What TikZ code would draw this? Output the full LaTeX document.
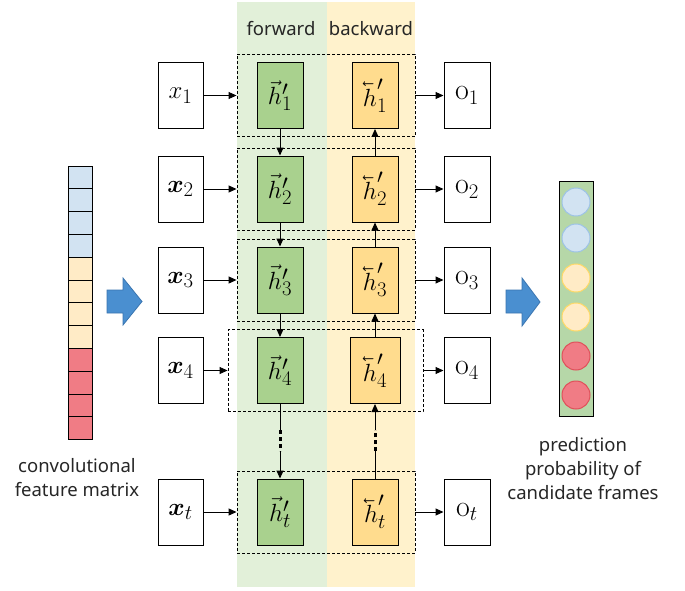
\documentclass[tikz,border=0pt]{standalone}
\usepackage{fontspec}
\usepackage{bm}
\usepackage{graphicx}
\newfontfamily\labelfont{Noto Sans}
\usetikzlibrary{arrows.meta}
\newcommand{\lvh}{\reflectbox{$\vec{\reflectbox{$h$}}$}}
\definecolor{bandgreen}{HTML}{E2F0D9}
\definecolor{bandorange}{HTML}{FFF2CC}
\definecolor{hgreen}{HTML}{A9D18E}
\definecolor{horange}{HTML}{FFDC8E}
\definecolor{cellblue}{HTML}{D2E3F2}
\definecolor{cellcream}{HTML}{FFEBC6}
\definecolor{cellred}{HTML}{F07C85}
\definecolor{arrowblue}{HTML}{4A8FD0}
\definecolor{arrowedge}{HTML}{3A75B0}
\definecolor{predgreen}{HTML}{B6D7A8}
\definecolor{cblueedge}{HTML}{9DC3E6}
\definecolor{ccreamedge}{HTML}{FFD966}
\definecolor{crededge}{HTML}{E0505A}
\definecolor{txtgray}{HTML}{262626}
\begin{document}
\begin{tikzpicture}[x=1pt,y=-1pt,
  mathlbl/.style={font=\fontsize{30}{32}\selectfont},
  xbox/.style={draw, line width=1pt, fill=white, minimum width=45pt, minimum height=66pt, inner sep=0pt, mathlbl},
  gcell/.style={draw, line width=1pt, fill=hgreen, minimum width=46pt, minimum height=66pt, inner sep=0pt, mathlbl},
  ycell/.style={draw, line width=1pt, fill=horange, minimum width=46pt, minimum height=66pt, inner sep=0pt, mathlbl},
  outbox/.style={draw, line width=1pt, fill=white, minimum width=46pt, minimum height=66pt, inner sep=0pt, mathlbl},
  dbox/.style={draw, line width=0.9pt, dash pattern=on 3pt off 2pt, minimum height=82pt, inner sep=0pt},
  conn/.style={line width=1pt, -{Triangle[length=8pt,width=7pt]}},
  plainline/.style={line width=1pt},
  dotline/.style={line width=3pt, dash pattern=on 4pt off 3pt},
  fcell/.style={draw, line width=1pt, minimum width=24pt, minimum height=22.8pt, inner sep=0pt},
  bigarrow/.style={fill=arrowblue, draw=arrowedge, line width=0.8pt},
  pcirc/.style={circle, minimum size=28pt, inner sep=0pt, line width=1pt},
  caption/.style={font=\labelfont\fontsize{18.5}{24}\selectfont, text=txtgray, align=center}
]
\useasboundingbox (0,0) rectangle (685,591);
% bands
\fill[bandgreen] (237,2) rectangle (327,587);
\fill[bandorange] (327,2) rectangle (415,587);
\node[caption] (fw) at (281,29) {forward};
\node[caption] (bw) at (371,29) {backward};

% rows
\foreach \n/\yy in {1/95.5,2/189,3/280,4/370.5,t/512}{
  \node[gcell] (g\n) at (280,\yy) {$\vec{h}'_{\n}$};
  \node[outbox] (o\n) at (467,\yy) {$\mathrm{o}_{\n}$};
}
\foreach \n/\yy in {1/95.5,2/189,3/280,t/512}{
  \node[ycell] (y\n) at (375,\yy) {$\lvh'_{\n}$};
}
\node[ycell, minimum width=50pt] (y4) at (375,370.5) {$\lvh'_{4}$};
\node[xbox] (x1) at (180.5,95.5) {$x_1$};
\node[xbox] (x2) at (180.5,189) {$\bm{x}_2$};
\node[xbox] (x3) at (180.5,280) {$\bm{x}_3$};
\node[xbox] (x4) at (180.5,370.5) {$\bm{x}_4$};
\node[xbox] (xt) at (180.5,512) {$\bm{x}_t$};

\node[dbox, minimum width=178pt] (d1) at (326,95.5) {};
\node[dbox, minimum width=178pt] (d2) at (326,189) {};
\node[dbox, minimum width=178pt] (d3) at (326,280) {};
\node[dbox, minimum width=195pt] (d4) at (325.5,370.5) {};
\node[dbox, minimum width=178pt] (dt) at (326,512) {};

\foreach \n in {1,2,3,4,t}{
  \draw[conn] (x\n.east) -- (d\n.west);
  \draw[conn] (d\n.east) -- (o\n.west);
}
% forward chain
\draw[conn] (g1.south) -- (g2.north);
\draw[conn] (g2.south) -- (g3.north);
\draw[conn] (g3.south) -- (g4.north);
\coordinate (ga) at (280,430);
\coordinate (gb) at (280,451);
\draw[plainline] (g4.south) -- (ga);
\draw[dotline] (ga) -- (gb);
\draw[conn] (gb) -- (gt.north);
% backward chain
\draw[conn] (y2.north) -- (y1.south);
\draw[conn] (y3.north) -- (y2.south);
\draw[conn] (y4.north) -- (y3.south);
\coordinate (ya) at (375,451);
\coordinate (yb) at (375,430);
\draw[plainline] (yt.north) -- (ya);
\draw[dotline] (ya) -- (yb);
\draw[conn] (yb) -- (y4.south);

% feature matrix
\foreach \i/\c in {0/cellblue,1/cellblue,2/cellblue,3/cellblue,4/cellcream,5/cellcream,6/cellcream,7/cellcream,8/cellred,9/cellred,10/cellred,11/cellred}{
  \node[fcell, fill=\c] (f\i) at (80,{177.4+22.8*\i}) {};
}
\node[caption] (fcap) at (77,477.5) {convolutional\\feature matrix};

% blue arrows
\draw[bigarrow] (107,290) -- (123,290) -- (123,278) -- (142,301.5) -- (123,325) -- (123,313) -- (107,313) -- cycle;
\draw[bigarrow] (506,290) -- (522,290) -- (522,278) -- (540,302) -- (522,326) -- (522,313) -- (506,313) -- cycle;

% prediction column
\node[draw, line width=1pt, fill=predgreen, minimum width=34pt, minimum height=235pt, inner sep=0pt] (pcol) at (576,298.5) {};
\node[pcirc, fill=cellblue, draw=cblueedge] (p1) at (576,202) {};
\node[pcirc, fill=cellblue, draw=cblueedge] (p2) at (576,238) {};
\node[pcirc, fill=cellcream, draw=ccreamedge] (p3) at (576,278) {};
\node[pcirc, fill=cellcream, draw=ccreamedge] (p4) at (576,317) {};
\node[pcirc, fill=cellred, draw=crededge] (p5) at (576,356) {};
\node[pcirc, fill=cellred, draw=crededge] (p6) at (576,395) {};
\node[caption] (pcap) at (583,469) {prediction\\probability of\\candidate frames};
\end{tikzpicture}
\end{document}
